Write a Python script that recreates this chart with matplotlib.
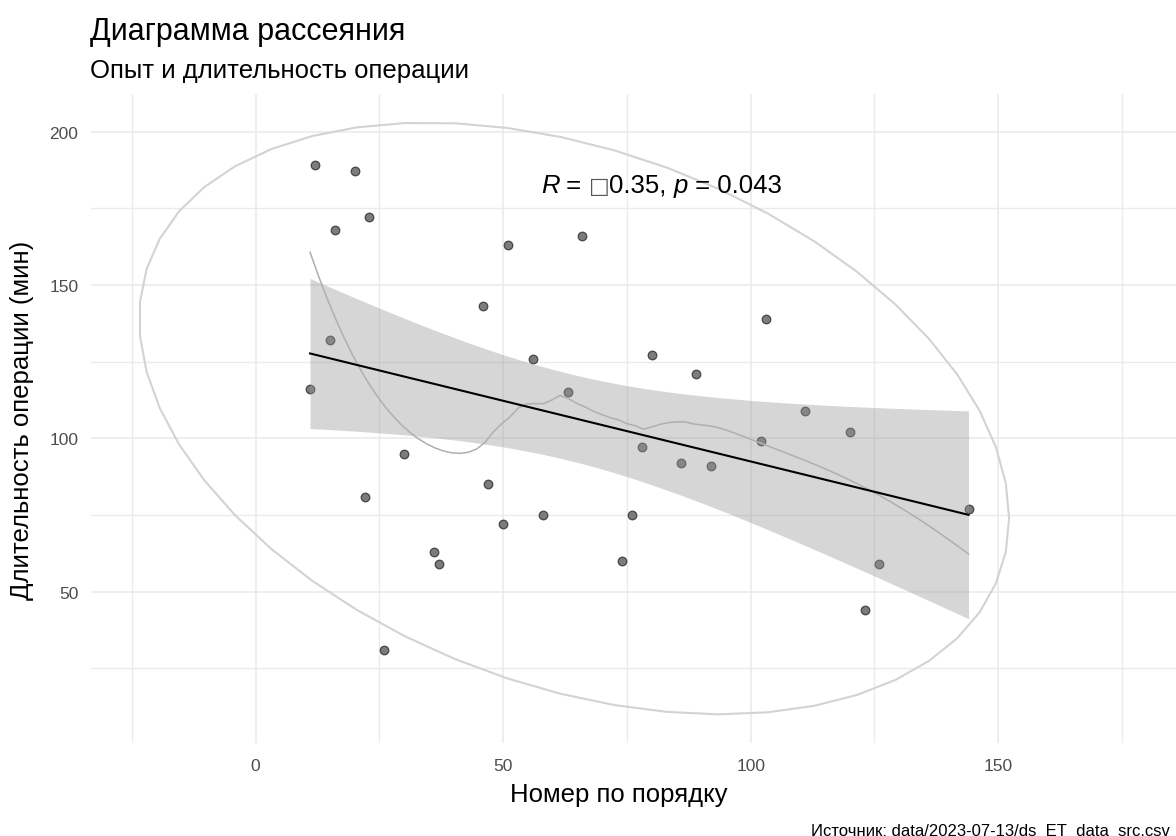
import numpy as np
import matplotlib
matplotlib.use("Agg")
import matplotlib.pyplot as plt
from matplotlib.offsetbox import TextArea, HPacker, AnnotationBbox

# ---- data -------------------------------------------------------------
order_no = [11, 12, 15, 16, 20, 22, 23, 26, 30, 36, 37, 46, 47, 50, 51, 56, 58,
            63, 66, 74, 76, 78, 80, 86, 89, 92, 102, 103, 111, 120, 123, 126, 144]
duration = [116, 189, 132, 168, 187, 81, 172, 31, 95, 63, 59, 143, 85, 72, 163,
            126, 75, 115, 166, 60, 75, 97, 127, 92, 121, 91, 99, 139, 109, 102,
            44, 59, 77]

cor_r = -0.35
cor_p = 0.043

x_ticks = [0, 50, 100, 150]
y_ticks = [50, 100, 150, 200]
x_minor = [-25, 25, 75, 125, 175]
y_minor = [25, 75, 125, 175]

title = "Диаграмма рассеяния"
subtitle = "Опыт и длительность операции"
x_title = "Номер по порядку"
y_title = "Длительность операции (мин)"
caption = "Источник: data/2023-07-13/ds_ET_data_src.csv"

x = np.asarray(order_no, float)
y = np.asarray(duration, float)
n = len(x)

# ---- linear model with 95% confidence band ----------------------------
T_975_DF31 = 2.0395          # Student t quantile, df = n - 2
b1, b0 = np.polyfit(x, y, 1)
xs = np.linspace(x.min(), x.max(), 80)
fit = b0 + b1 * xs
resid = y - (b0 + b1 * x)
s = np.sqrt(np.sum(resid ** 2) / (n - 2))
sxx = np.sum((x - x.mean()) ** 2)
se = s * np.sqrt(1 / n + (xs - x.mean()) ** 2 / sxx)
lo, hi = fit - T_975_DF31 * se, fit + T_975_DF31 * se


# ---- local quadratic regression (loess) -------------------------------
def loess(xv, yv, grid, span=0.75):
    q = int(np.floor(len(xv) * span))
    out = []
    for g in grid:
        d = np.abs(xv - g)
        h = np.sort(d)[q - 1]
        w = np.clip(1 - (d / h) ** 3, 0, None) ** 3
        A = np.vstack([np.ones_like(xv), xv - g, (xv - g) ** 2]).T
        W = np.sqrt(w)
        coef, *_ = np.linalg.lstsq(A * W[:, None], yv * W, rcond=None)
        out.append(coef[0])
    return np.array(out)


smooth = loess(x, y, xs, span=0.75)


# ---- multivariate t ellipse (robust covariance) -----------------------
def cov_trob(data, nu=5, maxit=25, tol=0.01):
    nn, p = data.shape
    wt = np.ones(nn)
    loc = data.mean(axis=0)
    w = np.sqrt(wt)
    for _ in range(maxit):
        w0 = w
        X = data - loc
        _, d, vt = np.linalg.svd(np.sqrt(w / w.sum())[:, None] * X, full_matrices=False)
        wX = X @ vt.T @ np.diag(1 / d)
        Q = np.sum(wX ** 2, axis=1)
        w = wt * (nu + p) / (nu + Q)
        loc = np.sum(w[:, None] * data, axis=0) / w.sum()
        if np.all(np.abs(w - w0) < tol):
            break
    cov = (np.sqrt(w)[:, None] * X).T @ (np.sqrt(w)[:, None] * X) / wt.sum()
    return loc, cov


pts = np.column_stack([x, y])
center, shape = cov_trob(pts)
dfn, dfd, level = 2, n - 1, 0.95
qf = dfd / 2 * ((1 - level) ** (-2 / dfd) - 1)      # F(2, dfd) quantile
radius = np.sqrt(dfn * qf)
ang = np.arange(52) * 2 * np.pi / 51
unit = np.column_stack([np.cos(ang), np.sin(ang)])
R = np.linalg.cholesky(shape).T
ell = center + radius * (unit @ R)

# ---- figure -----------------------------------------------------------
W, H = 1176, 837
fig = plt.figure(figsize=(W / 100, H / 100), dpi=100)
FONT = ["Liberation Sans", "DejaVu Sans"]
plt.rcParams["font.family"] = FONT

L, Rr, T, B = 91, 1176, 95, 744
ax = fig.add_axes([L / W, (H - B) / H, (Rr - L) / W, (B - T) / H])
ax.set_xlim(-33.24, 185.9)
ax.set_ylim(0.65, 212.26)
for sp in ax.spines.values():
    sp.set_visible(False)

ax.set_xticks(x_ticks)
ax.set_yticks(y_ticks)
ax.set_xticks(x_minor, minor=True)
ax.set_yticks(y_minor, minor=True)
ax.tick_params(which="both", length=0)
ax.tick_params(axis="x", labelsize=12.5, labelcolor="#4D4D4D", pad=11)
ax.tick_params(axis="y", labelsize=12.5, labelcolor="#4D4D4D", pad=9)
ax.grid(which="major", color="#EBEBEB", linewidth=1.2)
ax.grid(which="minor", color="#EBEBEB", linewidth=1.0)
ax.set_axisbelow(True)

ax.plot(ell[:, 0], ell[:, 1], color="#D3D3D3", linewidth=1.5, zorder=2)
ax.scatter(x, y, s=38, facecolor="#6E6E6E", edgecolor="#3A3A3A",
           linewidth=0.9, alpha=0.9, zorder=3)
ax.fill_between(xs, lo, hi, color="#999999", alpha=0.4, linewidth=0, zorder=4)
ax.plot(xs, smooth, color="#AFAFAF", linewidth=1.1, zorder=5)
ax.plot(xs, fit, color="black", linewidth=1.5, zorder=6)

# correlation label
fs = 18.5
parts = [
    TextArea("R", textprops=dict(fontsize=fs, style="italic", family=FONT)),
    TextArea(" = ", textprops=dict(fontsize=fs, family=FONT)),
    TextArea("\u25a1", textprops=dict(fontsize=fs * 0.85, family=["DejaVu Sans"], color="#555555")),
    TextArea(f"{abs(cor_r):.2f}, ", textprops=dict(fontsize=fs, family=FONT)),
    TextArea("p", textprops=dict(fontsize=fs, style="italic", family=FONT)),
    TextArea(f" = {cor_p:.3f}", textprops=dict(fontsize=fs, family=FONT)),
]
box = HPacker(children=parts, sep=0, pad=0, align="baseline")
ab = AnnotationBbox(box, (57.6, 182.6), xycoords="data", box_alignment=(0, 0.5),
                    frameon=False, pad=0, zorder=7)
ax.add_artist(ab)

# titles and labels
fig.text(90 / W, 1 - 40 / H, title, fontsize=22, ha="left", va="baseline")
fig.text(90 / W, 1 - 78 / H, subtitle, fontsize=18.5, ha="left", va="baseline")
fig.text(619 / W, 1 - 795 / H, x_title, fontsize=18.5, ha="center", va="center")
fig.text(22 / W, 1 - 420 / H, y_title, fontsize=18.5, ha="center", va="center",
         rotation=90)
fig.text(1170 / W, 1 - 836 / H, caption, fontsize=12, ha="right", va="baseline")

fig.savefig("out.png", dpi=100, facecolor="white")
